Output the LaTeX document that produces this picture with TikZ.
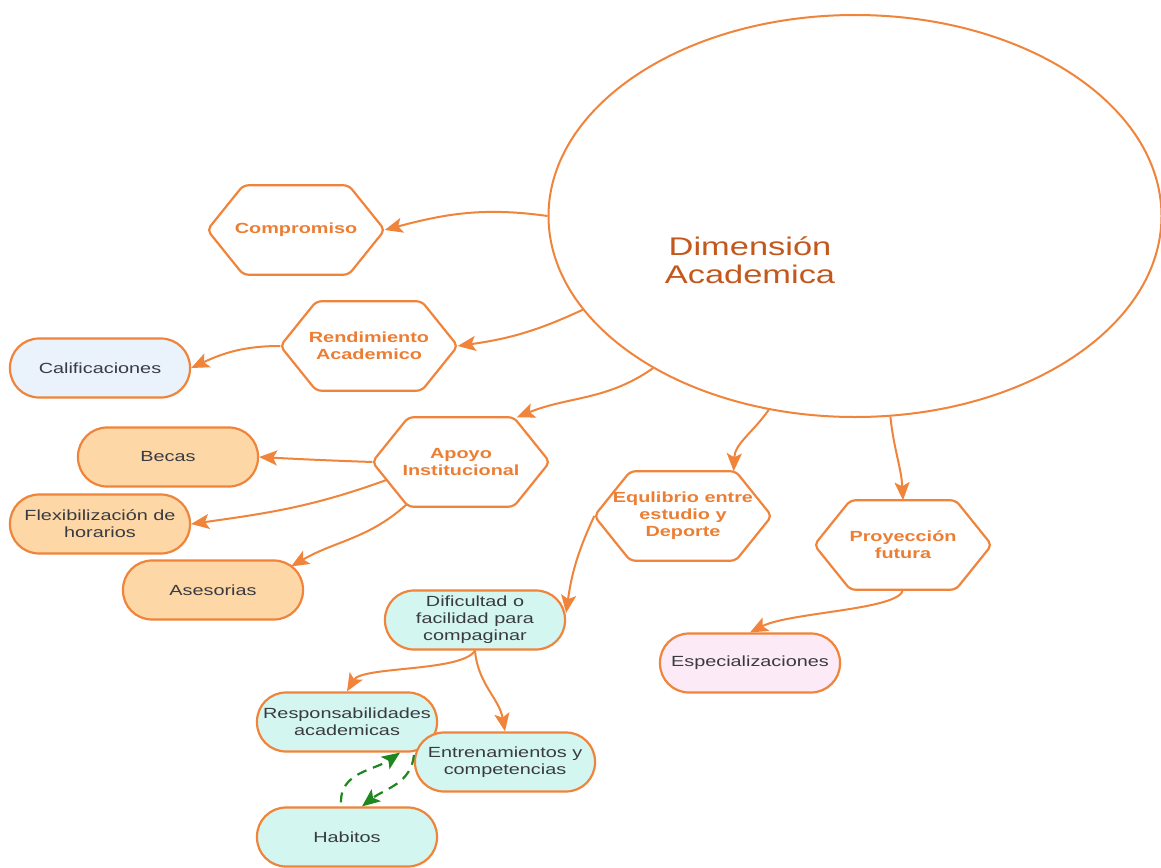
\documentclass[tikz,border=0pt]{standalone}
\usepackage{fontspec}
\setmainfont[FakeStretch=1.35]{Liberation Sans}
\usetikzlibrary{arrows.meta,shapes.geometric,calc}
\definecolor{orln}{RGB}{240,132,58}
\definecolor{ortx}{RGB}{236,126,52}
\definecolor{bigtx}{RGB}{196,88,28}
\definecolor{txt}{RGB}{58,58,66}
\definecolor{fblue}{RGB}{234,242,252}
\definecolor{forange}{RGB}{253,216,166}
\definecolor{fcyan}{RGB}{212,246,240}
\definecolor{fpink}{RGB}{252,234,246}
\definecolor{dgreen}{RGB}{30,135,30}
\tikzset{
  hexnode/.style={rectangle, minimum width=177pt, minimum height=89pt, inner sep=0pt,
    align=center, text=ortx, font=\fontsize{14.7}{17}\selectfont\bfseries},
  hexline/.style={draw=orln, line width=2.2pt, rounded corners=5pt, fill=white},
  pill/.style={rectangle, rounded corners=29pt, draw=orln, line width=2.2pt,
    minimum width=180pt, minimum height=59pt, inner sep=0pt, align=center,
    text=txt, font=\fontsize{14.7}{17}\selectfont},
  arr/.style={draw=orln, line width=2pt, -{Stealth[length=18pt,width=15pt,inset=4pt]}},
  garr/.style={draw=dgreen, line width=2.2pt, dash pattern=on 10pt off 7pt,
    -{Stealth[length=18pt,width=15pt,inset=4pt]}},
}
\newcommand\hexdraw[1]{\draw[hexline] (#1.west) -- ([xshift=36pt]#1.north west) -- ([xshift=-36pt]#1.north east) -- (#1.east) -- ([xshift=-36pt]#1.south east) -- ([xshift=36pt]#1.south west) -- cycle;}
\begin{document}
\begin{tikzpicture}[x=1pt,y=-1pt]
\useasboundingbox[fill=white] (0,0) rectangle (1161,867);
% central ellipse
\node[ellipse, draw=orln, line width=2pt, fill=white, minimum width=613pt, minimum height=402pt, inner sep=0pt] (E) at (855,216) {};
\node[text=bigtx, align=center, font=\fontsize{25.5}{28}\selectfont, inner sep=0pt] (Et) at (750,260) {Dimensión\\Academica};
% hexagons
\node[hexnode] (C) at (296,230) {};
\node[hexnode] (R) at (369,346) {};
\node[hexnode] (A) at (461,462) {};
\node[hexnode] (Q) at (683,516) {};
\node[hexnode] (P) at (903,545) {};
\foreach \n in {C,R,A,Q,P} {\hexdraw{\n}}
\node[hexnode] at (C) {Compromiso};
\node[hexnode] at (R) {Rendimiento\\Academico};
\node[hexnode] at (A) {Apoyo\\Institucional};
\node[hexnode] at (Q) {Equlibrio entre\\estudio y\\Deporte};
\node[hexnode] at (P) {Proyección\\futura};
% pills
\node[pill, fill=fblue] (Ca) at (100,368) {Calificaciones};
\node[pill, fill=forange] (B) at (168,457) {Becas};
\node[pill, fill=forange] (F) at (100,524) {Flexibilización de\\horarios};
\node[pill, fill=forange] (As) at (213,590) {Asesorias};
\node[pill, fill=fpink] (S) at (750,663) {Especializaciones};
\node[pill, fill=fcyan] (D) at (475,620) {Dificultad o\\facilidad para\\compaginar};
\node[pill, fill=fcyan] (Rs) at (347,722) {Responsabilidades\\academicas};
\node[pill, fill=fcyan] (En) at (505,762) {Entrenamientos y\\competencias};
\node[pill, fill=fcyan] (H) at (347,837) {Habitos};
% connectors
\draw[arr] (E.180) to[out=172,in=15] (C.east);
\draw[arr] (E.199.8) to[out=205,in=8] (R.east);
\draw[arr] (R.west) to[out=180,in=25] (Ca.east);
\draw[arr] (E.217.6) to[out=215,in=22] ([xshift=-33pt]A.north east);
\draw[arr] (A.west) to[out=178,in=-3] (B.east);
\draw[arr] ($(A.west)!0.4!([xshift=36pt]A.south west)$) to[out=200,in=8] (F.east);
\draw[arr] ([xshift=34pt,yshift=2pt]A.south west) to[out=222,in=30] ([xshift=-13pt,yshift=-7pt]As.north east);
\draw[arr] (E.246.3) to[out=235,in=88] ([xshift=-38pt]Q.north east);
\draw[arr] (E.280.4) to[out=-84,in=93] (P.north);
\draw[arr] (P.south) .. controls (900,610) and (790,612) .. (S.north);
\draw[arr] (Q.west) to[out=245,in=82] ([yshift=7pt]D.east);
\draw[arr] (D.south) .. controls (462,672) and (362,666) .. (Rs.north);
\draw[arr] (D.south) to[out=-85,in=100] (En.north);
\draw[garr] ([xshift=-6pt,yshift=4pt]H.north) to[out=92,in=215] ([xshift=53pt]Rs.south);
\draw[garr] ([yshift=7pt]En.west) to[out=-95,in=38] ([xshift=15pt]H.north);
\end{tikzpicture}
\end{document}
